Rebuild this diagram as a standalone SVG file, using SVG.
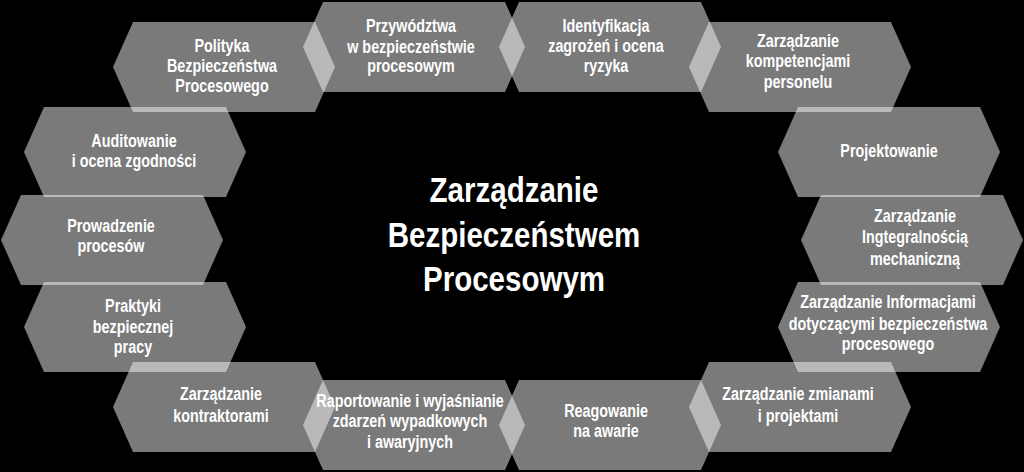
<svg xmlns="http://www.w3.org/2000/svg" xmlns:xlink="http://www.w3.org/1999/xlink" width="1024" height="472" viewBox="0 0 1024 472">
<defs>
<style>
.hex{fill:#ffffff;fill-opacity:0.48}
.t{font-family:"Liberation Sans Narrow","Liberation Sans",Arial,sans-serif;font-weight:bold;font-size:17.5px;fill:#ffffff;text-anchor:middle}
.title{font-family:"Liberation Sans Narrow","Liberation Sans",Arial,sans-serif;font-weight:bold;font-size:36px;fill:#ffffff;text-anchor:middle}
</style>
<polygon id="hx" class="hex" points="0,45 20,0 202,0 222,45 202,90 20,90"/>
</defs>
<rect width="1024" height="472" fill="#000000"/>
<g id="connectors"/>
<g id="n1" transform="translate(113,22)"><use xlink:href="#hx" href="#hx"/><text class="t" transform="translate(109,0) scale(0.82,1)"><tspan x="0" y="30">Polityka</tspan><tspan x="0" y="50">Bezpieczeństwa</tspan><tspan x="0" y="70">Procesowego</tspan></text></g>
<g id="n2" transform="translate(303,2)"><use xlink:href="#hx" href="#hx"/><text class="t" transform="translate(108,0) scale(0.82,1)"><tspan x="0" y="30">Przywództwa</tspan><tspan x="0" y="51">w bezpieczeństwie</tspan><tspan x="0" y="70">procesowym</tspan></text></g>
<g id="n3" transform="translate(499,2)"><use xlink:href="#hx" href="#hx"/><text class="t" transform="translate(107,0) scale(0.82,1)"><tspan x="0" y="30">Identyfikacja</tspan><tspan x="0" y="50">zagrożeń i ocena</tspan><tspan x="0" y="70">ryzyka</tspan></text></g>
<g id="n4" transform="translate(689,22)"><use xlink:href="#hx" href="#hx"/><text class="t" transform="translate(109,0) scale(0.82,1)"><tspan x="0" y="25">Zarządzanie</tspan><tspan x="0" y="45">kompetencjami</tspan><tspan x="0" y="66">personelu</tspan></text></g>
<g id="n5" transform="translate(778,107)"><use xlink:href="#hx" href="#hx"/><text class="t" transform="translate(111,0) scale(0.82,1)"><tspan x="0" y="50">Projektowanie</tspan></text></g>
<g id="n6" transform="translate(801,195)"><use xlink:href="#hx" href="#hx"/><text class="t" transform="translate(114,0) scale(0.82,1)"><tspan x="0" y="27">Zarządzanie</tspan><tspan x="0" y="48">Ingtegralnością</tspan><tspan x="0" y="70">mechaniczną</tspan></text></g>
<g id="n7" transform="translate(778,282)"><use xlink:href="#hx" href="#hx"/><text class="t" transform="translate(110,0) scale(0.82,1)"><tspan x="0" y="26">Zarządzanie Informacjami</tspan><tspan x="0" y="48">dotyczącymi bezpieczeństwa</tspan><tspan x="0" y="68">procesowego</tspan></text></g>
<g id="n8" transform="translate(689,362)"><use xlink:href="#hx" href="#hx"/><text class="t" transform="translate(109,0) scale(0.82,1)"><tspan x="0" y="38">Zarządzanie zmianami</tspan><tspan x="0" y="60">i projektami</tspan></text></g>
<g id="n9" transform="translate(499,380)"><use xlink:href="#hx" href="#hx"/><text class="t" transform="translate(107,0) scale(0.82,1)"><tspan x="0" y="37">Reagowanie</tspan><tspan x="0" y="57">na awarie</tspan></text></g>
<g id="n10" transform="translate(303,380)"><use xlink:href="#hx" href="#hx"/><text class="t" transform="translate(107,0) scale(0.82,1)"><tspan x="0" y="27">Raportowanie i wyjaśnianie</tspan><tspan x="0" y="47">zdarzeń wypadkowych</tspan><tspan x="0" y="68">i awaryjnych</tspan></text></g>
<g id="n11" transform="translate(113,362)"><use xlink:href="#hx" href="#hx"/><text class="t" transform="translate(108,0) scale(0.82,1)"><tspan x="0" y="38">Zarządzanie</tspan><tspan x="0" y="60">kontraktorami</tspan></text></g>
<g id="n12" transform="translate(24,282)"><use xlink:href="#hx" href="#hx"/><text class="t" transform="translate(109,0) scale(0.82,1)"><tspan x="0" y="30">Praktyki</tspan><tspan x="0" y="51">bezpiecznej</tspan><tspan x="0" y="71">pracy</tspan></text></g>
<g id="n13" transform="translate(1,195)"><use xlink:href="#hx" href="#hx"/><text class="t" transform="translate(110,0) scale(0.82,1)"><tspan x="0" y="37">Prowadzenie</tspan><tspan x="0" y="57">procesów</tspan></text></g>
<g id="n14" transform="translate(24,107)"><use xlink:href="#hx" href="#hx"/><text class="t" transform="translate(110,0) scale(0.82,1)"><tspan x="0" y="40">Auditowanie</tspan><tspan x="0" y="60">i ocena zgodności</tspan></text></g>
<g id="center"><text class="title" transform="translate(514,0) scale(0.82,1)"><tspan x="0" y="202">Zarządzanie</tspan><tspan x="0" y="247">Bezpieczeństwem</tspan><tspan x="0" y="291">Procesowym</tspan></text></g>
</svg>
